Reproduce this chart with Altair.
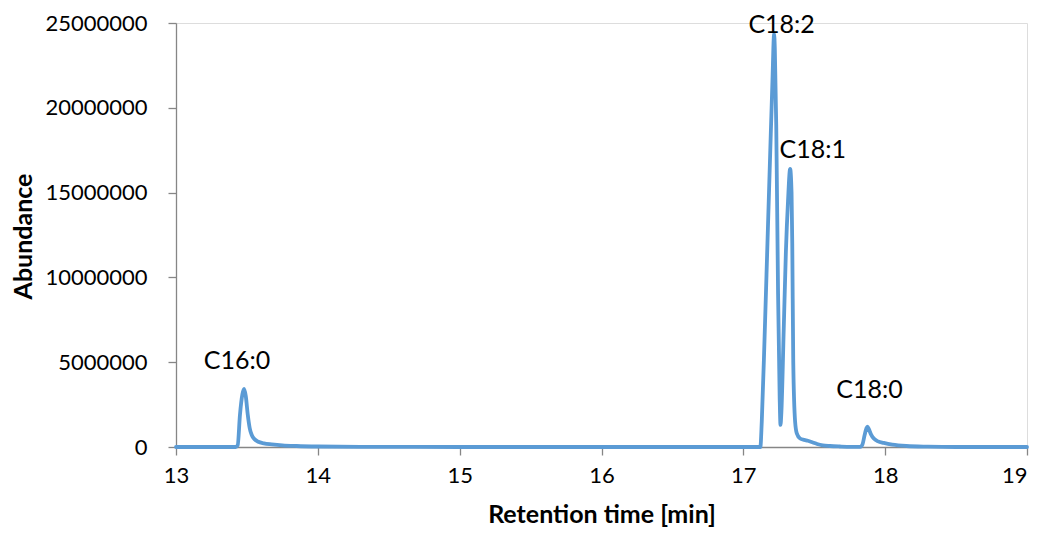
import altair as alt
import pandas as pd

# Retention time [min]
times = [13.00, 13.30, 13.42, 13.435, 13.451, 13.468, 13.48, 13.492, 13.506, 13.52,
         13.534, 13.555, 13.58, 13.62, 13.675, 13.75, 13.85, 14.0, 14.3, 15.0,
         16.0, 17.0, 17.11, 17.12, 17.13, 17.15, 17.17, 17.19, 17.205, 17.217,
         17.222, 17.232, 17.245, 17.256, 17.262, 17.268, 17.285, 17.30, 17.315, 17.33,
         17.34, 17.345, 17.352, 17.365, 17.377, 17.40, 17.43, 17.455, 17.49, 17.52,
         17.56, 17.61, 17.68, 17.76, 17.825, 17.84, 17.855, 17.868, 17.875, 17.885,
         17.90, 17.92, 17.95, 17.99, 18.05, 18.15, 18.3, 18.5, 19.0]
# Abundance
abundance = [0, 0, 0, 100000, 1900000, 3100000, 3420000, 3000000, 1900000, 1100000,
             710000, 450000, 310000, 220000, 160000, 100000, 60000, 30000, 10000, 0,
             0, 0, 0, 0, 1500000, 6500000, 12000000, 17500000, 21500000, 24350000,
             23500000, 19000000, 9000000, 3000000, 1300000, 2000000, 7000000, 11500000, 14500000, 16400000,
             15000000, 12000000, 5000000, 1500000, 800000, 500000, 420000, 370000, 270000, 180000,
             100000, 60000, 30000, 10000, 10000, 150000, 700000, 1100000, 1200000, 1050000,
             750000, 500000, 330000, 240000, 140000, 60000, 20000, 0, 0]

# Peak labels
peak_names = ["C16:0", "C18:2", "C18:1", "C18:0"]
peak_x = [13.43, 17.27, 17.49, 17.89]
peak_y = [5070000, 24900000, 17510000, 3360000]

df = pd.DataFrame({"t": times, "a": abundance})
labels = pd.DataFrame({"name": peak_names, "t": peak_x, "a": peak_y})

FONT = "Lato"
AXIS_COLOR = "#868686"

x_enc = alt.X("t:Q",
              scale=alt.Scale(domain=[13, 19], nice=False, zero=False),
              axis=alt.Axis(title="Retention time [min]", values=[13, 14, 15, 16, 17, 18, 19],
                            format="d", grid=False, domainColor=AXIS_COLOR, tickColor=AXIS_COLOR,
                            tickSize=8, labelPadding=10, labelFontSize=22, labelFont=FONT,
                            labelColor="black", titleFont=FONT, titleFontSize=25,
                            titleFontWeight="bold", titleColor="black",
                            titleY=75, titleBaseline="alphabetic",
                            labelAlign={"condition": {"test": "datum.value == 19", "value": "right"},
                                        "value": "center"},
                            labelFlush=False, domainWidth=1.3, tickWidth=1.3))
y_enc = alt.Y("a:Q",
              scale=alt.Scale(domain=[0, 25000000], nice=False),
              axis=alt.Axis(title="Abundance", values=[0, 5000000, 10000000, 15000000, 20000000, 25000000],
                            format="d", grid=False, domainColor=AXIS_COLOR, tickColor=AXIS_COLOR,
                            tickSize=8, labelPadding=21, labelFontSize=22, labelFont=FONT,
                            labelColor="black", titleFont=FONT, titleFontSize=25,
                            titleFontWeight="bold", titleColor="black",
                            titleX=-145, titleY=213, titleBaseline="alphabetic", titleAngle=270,
                            domainWidth=1.3, tickWidth=1.3))

line = alt.Chart(df).mark_line(color="#5B9BD5", strokeWidth=3.8, interpolate="monotone",
                               strokeJoin="round", strokeCap="round").encode(x=x_enc, y=y_enc)

text = alt.Chart(labels).mark_text(font=FONT, fontSize=25, color="black", align="center",
                                   baseline="middle").encode(x="t:Q", y="a:Q", text="name:N")

chart = (line + text).properties(
    width=851, height=424,
    autosize=alt.AutoSizeParams(type="none"),
    padding={"left": 168, "top": 15, "right": 5, "bottom": 80},
).configure_view(stroke=None).configure(background="white")

chart.save("out.html", embed_options={"renderer": "svg", "actions": False})
